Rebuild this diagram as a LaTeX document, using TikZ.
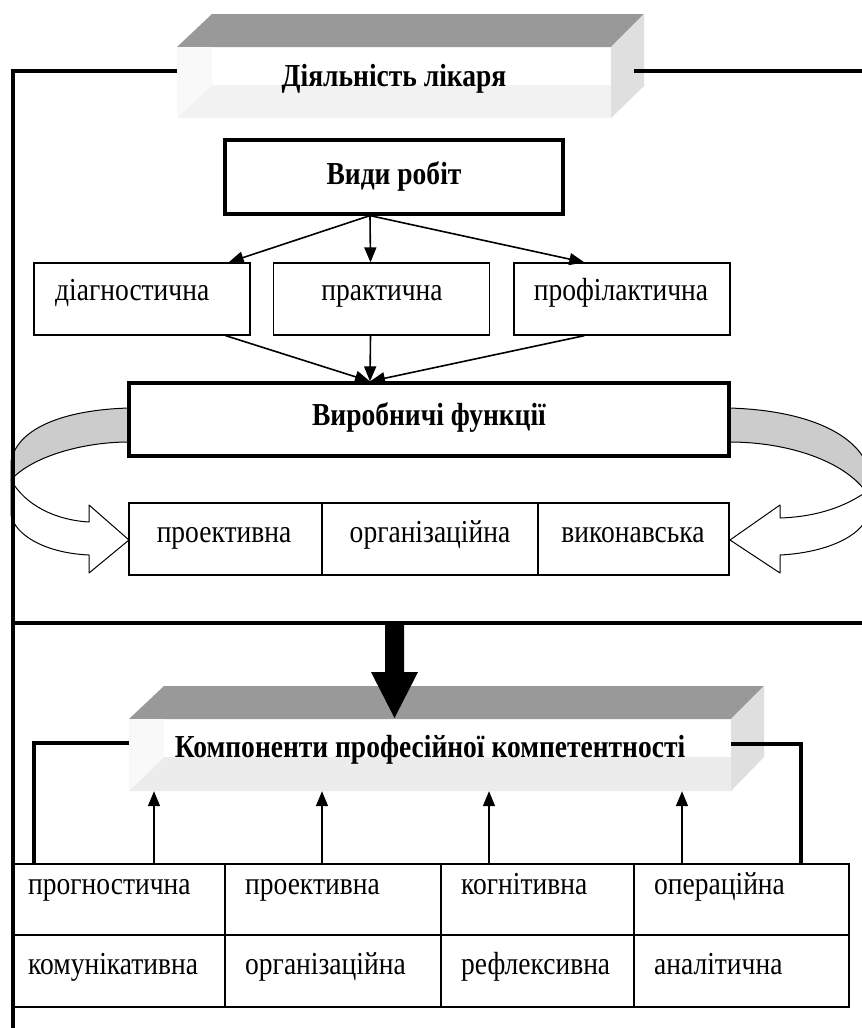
\documentclass[tikz,border=0pt]{standalone}
\usepackage{fontspec}
\setmainfont{Liberation Serif}[FakeStretch=0.86]
\usetikzlibrary{arrows.meta,calc}
\definecolor{topface}{HTML}{999999}
\definecolor{sideface}{HTML}{DFDFDF}
\definecolor{bevelA}{HTML}{F2F2F2}
\definecolor{bevelB}{HTML}{ECECEC}
\definecolor{stripc}{HTML}{F9F9F9}
\definecolor{bandgray}{HTML}{CCCCCC}
\begin{document}
\begin{tikzpicture}[x=1pt,y=-1pt,
  thickline/.style={line width=4.5pt,line join=miter},
  thinbox/.style={draw,line width=1.3pt,minimum height=72,inner sep=0pt},
  thickbox/.style={draw,line width=3.2pt,inner sep=0pt},
  plainbox/.style={inner sep=0pt},
  lbl/.style={font=\fontsize{32}{36}\selectfont,inner sep=0pt},
  blbl/.style={font=\fontsize{32}{36}\selectfont\bfseries,inner sep=0pt},
  arr/.style={line width=1.6pt,-{Triangle[length=15pt,width=12pt]}},
  bandline/.style={line width=1pt,line join=round}
]
\useasboundingbox (0,0) rectangle (862,1028);
\fill[white] (0,0) rectangle (862,1028);

% ---------- curved arrows around "Виробничі функції"
\filldraw[fill=bandgray,bandline] (129,408) .. controls (60,410) and (16,430) .. (11,462) -- (11,480) .. controls (30,458) and (80,442) .. (129,442) -- cycle;
\filldraw[fill=white,bandline] (11,480) .. controls (25,505) and (55,520) .. (89,522) -- (89,505) -- (129,540) -- (89,573) -- (89,555) .. controls (45,553) and (15,535) .. (11,515) -- cycle;
\filldraw[fill=bandgray,bandline] (729,408) .. controls (800,410) and (850,430) .. (866,462) -- (866,492) .. controls (845,462) and (790,442) .. (729,442) -- cycle;
\filldraw[fill=white,bandline] (866,492) .. controls (840,510) and (810,517) .. (780,518) -- (780,505) -- (730,540) -- (780,573) -- (780,555) .. controls (820,553) and (855,540) .. (866,520) -- cycle;

% ---------- top 3D box
\node[plainbox,minimum width=434,minimum height=71] (act) at (394,82.5) {};
\fill[topface] (177,47) -- (212,14) -- (644,14) -- (611,47) -- cycle;
\fill[sideface] (611,47) -- (644,14) -- (644,86) -- (611,118) -- cycle;
\fill[bevelA] (177,118) -- (212,85) -- (611,85) -- (611,118) -- cycle;
\fill[stripc] (177,47) -- (212,47) -- (212,85) -- (177,118) -- cycle;
\node[blbl,anchor=base] (actt) at (394,86) {Діяльність лікаря};

% ---------- Види робіт
\node[thickbox,minimum width=338,minimum height=74] (vydy) at (394,177) {};
\node[blbl,anchor=base] (vydyt) at (394,184) {Види робіт};

\node[thinbox,minimum width=216] (diag) at (142,299) {};
\node[thinbox,minimum width=216] (prak) at (381.5,299) {};
\node[thinbox,minimum width=216] (prof) at (622,299) {};
\node[lbl,anchor=base west] (diagt) at (55,300) {діагностична};
\node[lbl,anchor=base] (prakt) at (382,300) {практична};
\node[lbl,anchor=base] (proft) at (621,300) {профілактична};

\coordinate (vsrc) at ($(vydy.south)+(-24,0)$);
\draw[arr] (vsrc) -- ($(diag.north east)+(-22,0)$);
\draw[arr] (vsrc) -- ($(prak.north)+(-11,0)$);
\draw[arr] (vsrc) -- ($(prof.north west)+(71,0)$);

% ---------- Виробничі функції
\node[thickbox,minimum width=600,minimum height=73] (vyrob) at (429,419.5) {};
\node[blbl,anchor=base] (vyrobt) at (429,425) {Виробничі функції};
\coordinate (vdst) at ($(vyrob.north)+(-59,0)$);
\draw[arr] ($(diag.south east)+(-25,0)$) -- (vdst);
\draw[arr] ($(prak.south)+(-11,0)$) -- (vdst);
\draw[arr] ($(prof.south west)+(71,0)$) -- (vdst);

\node[thinbox,minimum width=193] (proek) at (225.5,539) {};
\node[thinbox,minimum width=216] (org) at (430,539) {};
\node[thinbox,minimum width=191] (vyk) at (633.5,539) {};
\node[lbl,anchor=base] (proekt) at (224,542) {проективна};
\node[lbl,anchor=base] (orgt) at (430,542) {організаційна};
\node[lbl,anchor=base] (vykt) at (633,542) {виконавська};

% ---------- bottom 3D box
\node[plainbox,minimum width=602,minimum height=72] (comp) at (430,755) {};
\fill[topface] (129,719) -- (164,686) -- (764,686) -- (731,719) -- cycle;
\fill[sideface] (731,719) -- (764,686) -- (764,757) -- (731,791) -- cycle;
\fill[bevelB] (129,791) -- (164,757) -- (731,757) -- (731,791) -- cycle;
\fill[stripc] (129,719) -- (164,719) -- (164,757) -- (129,791) -- cycle;
\node[blbl,anchor=base] (compt) at (430,757) {Компоненти професійної компетентності};

% ---------- table
\node[thinbox,minimum width=211,minimum height=71] (c11) at (119.5,899.5) {};
\node[thinbox,minimum width=216,minimum height=71] (c12) at (333,899.5) {};
\node[thinbox,minimum width=193,minimum height=71] (c13) at (537.5,899.5) {};
\node[thinbox,minimum width=215,minimum height=71] (c14) at (741.5,899.5) {};
\node[thinbox,minimum width=211,minimum height=72] (c21) at (119.5,971) {};
\node[thinbox,minimum width=216,minimum height=72] (c22) at (333,971) {};
\node[thinbox,minimum width=193,minimum height=72] (c23) at (537.5,971) {};
\node[thinbox,minimum width=215,minimum height=72] (c24) at (741.5,971) {};
\node[lbl,anchor=base west] (t11) at (28,894) {прогностична};
\node[lbl,anchor=base west] (t12) at (245,894) {проективна};
\node[lbl,anchor=base west] (t13) at (461,894) {когнітивна};
\node[lbl,anchor=base west] (t14) at (654,894) {операційна};
\node[lbl,anchor=base west] (t21) at (28,974) {комунікативна};
\node[lbl,anchor=base west] (t22) at (245,974) {організаційна};
\node[lbl,anchor=base west] (t23) at (461,974) {рефлексивна};
\node[lbl,anchor=base west] (t24) at (654,974) {аналітична};

\draw[arr] (c11.north -| 154,0) -- (comp.south -| 154,0);
\draw[arr] (c12.north -| 322,0) -- (comp.south -| 322,0);
\draw[arr] (c13.north -| 489,0) -- (comp.south -| 489,0);
\draw[arr] (c14.north -| 682,0) -- (comp.south -| 682,0);

% ---------- thick frame lines
\coordinate (fTL) at (13,71);
\coordinate (fBL) at (13,1028);
\draw[thickline] (fBL) -- (fTL) -- (act.west |- fTL);
\draw[thickline] (634,71) -- (862,71);
\coordinate (midL) at (13,623);
\coordinate (midR) at (862,623);
\draw[thickline] (midL) -- (midR);
% big arrow
\fill (385,621) -- (404,621) -- (404,672) -- (418,672) -- (394.5,718) -- (371,672) -- (385,672) -- cycle;
% brackets
\draw[thickline] (comp.west |- 0,743) -- (34,743) -- (34,864);
\draw[thickline] (comp.east |- 0,744) -- (801,744) -- (801,864);
\end{tikzpicture}
\end{document}
